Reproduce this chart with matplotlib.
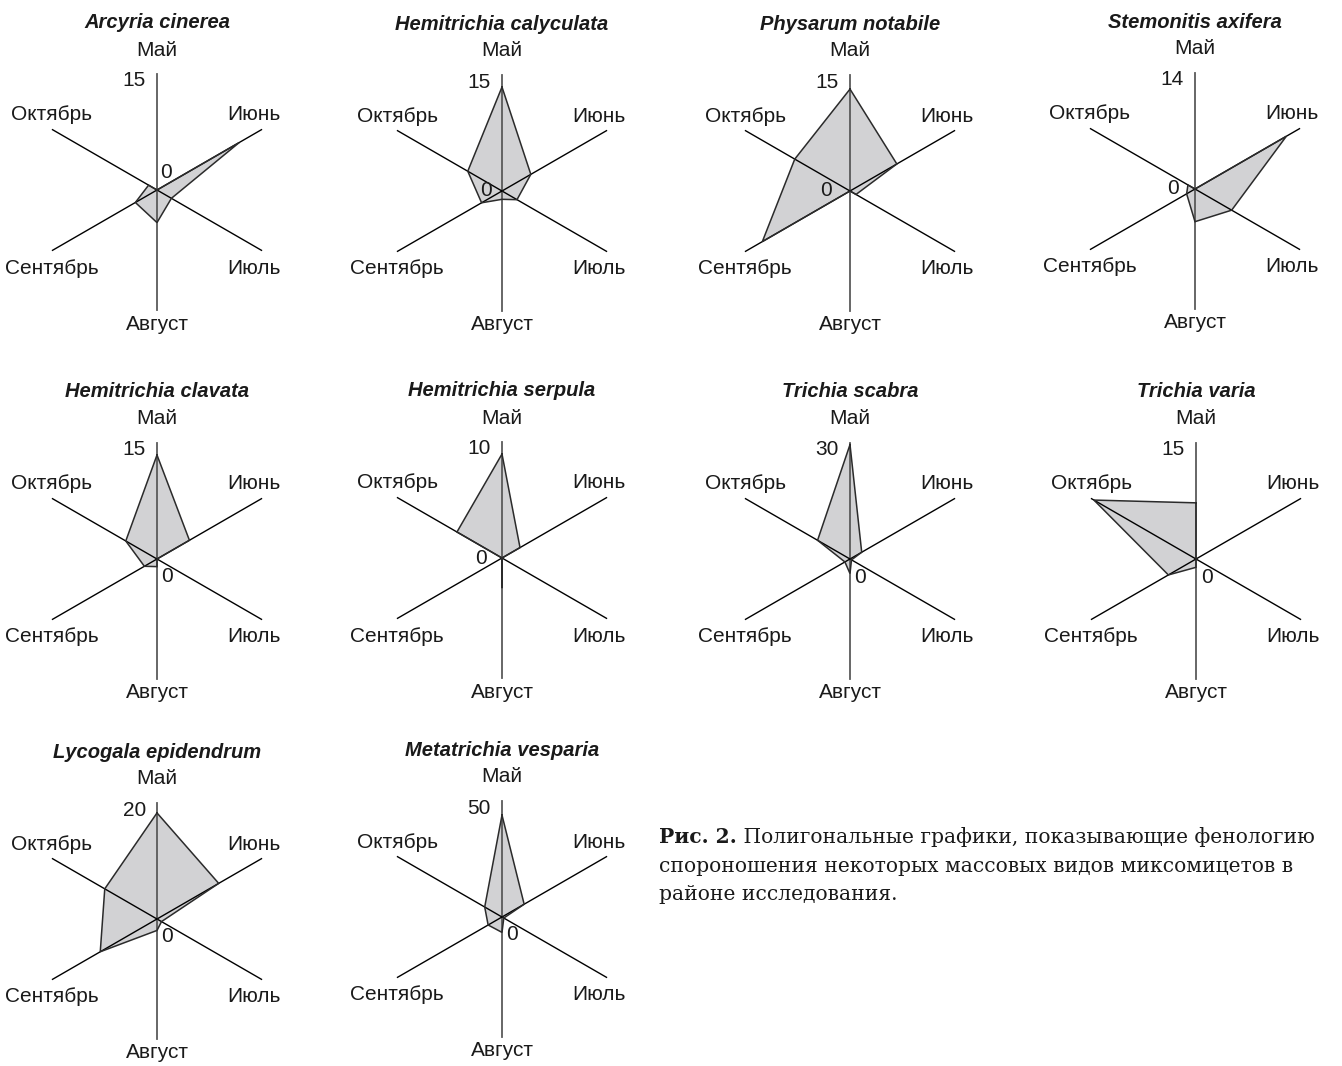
import numpy as np
import matplotlib.pyplot as plt

# Месяцы по осям, по часовой стрелке начиная с верхней оси
meses = ['Май', 'Июнь', 'Июль', 'Август', 'Сентябрь', 'Октябрь']

# Виды (заголовки панелей) и значение, подписанное на верхней оси
especies = ['Arcyria cinerea', 'Hemitrichia calyculata', 'Physarum notabile',
            'Stemonitis axifera', 'Hemitrichia clavata', 'Hemitrichia serpula',
            'Trichia scabra', 'Trichia varia', 'Lycogala epidendrum',
            'Metatrichia vesparia']
max_escala = [15, 15, 15, 14, 15, 10, 30, 15, 20, 50]

# Значения по месяцам (май ... октябрь)
arcyria_cinerea = [0, 13.7, 2.4, 4.7, 3.6, 1.4]
hemitrichia_calyculata = [15, 4.8, 2.5, 1.2, 3.4, 5.7]
physarum_notabile = [14.7, 7.8, 1.0, 0, 14.6, 9.2]
stemonitis_axifera = [0, 14.2, 5.7, 4.4, 1.3, 1.1]
hemitrichia_clavata = [15, 5.4, 0, 1.1, 2.1, 5.2]
hemitrichia_serpula = [10, 2.0, 0, 2.9, 0, 5.0]
trichia_scabra = [33, 3.9, 0.5, 4.2, 1.7, 10.8]
trichia_varia = [8.1, 0, 0, 1.2, 4.6, 17]
lycogala_epidendrum = [20.4, 13.7, 1.0, 2.2, 12.6, 11.6]
metatrichia_vesparia = [49, 12.3, 1.0, 7.4, 7.7, 9.6]

dados = [arcyria_cinerea, hemitrichia_calyculata, physarum_notabile,
         stemonitis_axifera, hemitrichia_clavata, hemitrichia_serpula,
         trichia_scabra, trichia_varia, lycogala_epidendrum, metatrichia_vesparia]

# Layout em pixels (figura 1342 x 1066)
largura, altura = 1342, 1066
centros = [(157, 190), (502, 191), (850, 191), (1195, 189),
           (157, 559), (502, 558), (850, 559), (1196, 559),
           (157, 919), (502, 917)]
# posição do rótulo "0" em relação ao centro (pixels, y para cima)
pos_zero = [(9, 17), (-16, 0), (-24, 0), (-22, 0), (10, -18),
            (-21, 0), (10, -19), (11, -19), (10, -17), (10, -18)]
R_px = 104.0      # raio em pixels do valor máximo
meia = 140.0      # meia largura do eixo polar em pixels

# comprimento dos eixos (fração do máximo)
comp_eixo = [1.12, 1.16, 1.16, 1.15, 1.16, 1.16]
# rótulos dos meses (offset em pixels)
pos_meses = [(0, 140), (97, 75), (97, -78), (0, -134), (-105, -78), (-105, 75)]

angulos = np.deg2rad([0, 60, 120, 180, 240, 300])

fonte = ['Liberation Sans', 'DejaVu Sans']
cor_texto = '#1a1a1a'
cor_preench = '#d2d2d4'
cor_borda = '#2b2b2b'

fig = plt.figure(figsize=(largura / 100, altura / 100), dpi=100)

eixos = []
for i, (nome, vmax, vals) in enumerate(zip(especies, max_escala, dados)):
    cx, cy = centros[i]
    pos = [(cx - meia) / largura, 1 - (cy + meia) / altura,
           2 * meia / largura, 2 * meia / altura]
    ax = fig.add_axes(pos, projection='polar')
    ax.set_theta_zero_location('N')
    ax.set_theta_direction(-1)
    ax.set_ylim(0, vmax * meia / R_px)
    ax.axis('off')
    eixos.append(ax)

    th = np.append(angulos, angulos[0])
    rr = np.append(vals, vals[0])
    ax.fill(th, rr, color=cor_preench, lw=0, zorder=1)

    # eixos radiais
    for k, (a, c) in enumerate(zip(angulos, comp_eixo)):
        vertical = k in (0, 3)
        ax.plot([a, a], [0, c * vmax], color='#5a5a5a' if vertical else 'black',
                lw=1.3 if vertical else 1.0, zorder=2)

    ax.plot(th, rr, color=cor_borda, lw=1.1, zorder=3, solid_joinstyle='miter')

    # textos
    ax.annotate(nome, xy=(0, 0), xytext=(0, 167), textcoords='offset pixels',
                ha='center', va='center', fontsize=14.5, fontweight='bold',
                fontstyle='italic', family=fonte, color=cor_texto)
    for m, (dx, dy) in zip(meses, pos_meses):
        ax.annotate(m, xy=(0, 0), xytext=(dx, dy), textcoords='offset pixels',
                    ha='center', va='center', fontsize=15, family=fonte,
                    color=cor_texto)
    ax.annotate(str(vmax), xy=(0, 0), xytext=(-11, 109), textcoords='offset pixels',
                ha='right', va='center', fontsize=15, family=fonte, color=cor_texto)
    zx, zy = pos_zero[i]
    ax.annotate('0', xy=(0, 0), xytext=(zx, zy), textcoords='offset pixels',
                ha='center', va='center', fontsize=15, family=fonte, color=cor_texto)

# Legenda da figura
fonte_serif = ['DejaVu Serif']
tam = 14.6
x0 = 659 / largura
t1 = fig.text(x0, 1 - 847 / altura, 'Рис. 2.', fontsize=tam, fontweight='bold',
              family=fonte_serif, va='bottom', ha='left', color=cor_texto)
eixos[0].annotate(' Полигональные графики, показывающие фенологию', xy=(1, 0),
                  xycoords=t1, va='bottom', ha='left', fontsize=tam,
                  family=fonte_serif, color=cor_texto, annotation_clip=False)
fig.text(x0, 1 - 876 / altura, 'спороношения некоторых массовых видов миксомицетов в',
         fontsize=tam, family=fonte_serif, va='bottom', ha='left', color=cor_texto)
fig.text(x0, 1 - 904 / altura, 'районе исследования.',
         fontsize=tam, family=fonte_serif, va='bottom', ha='left', color=cor_texto)

fig.savefig('out.png', dpi=100, facecolor='white')
